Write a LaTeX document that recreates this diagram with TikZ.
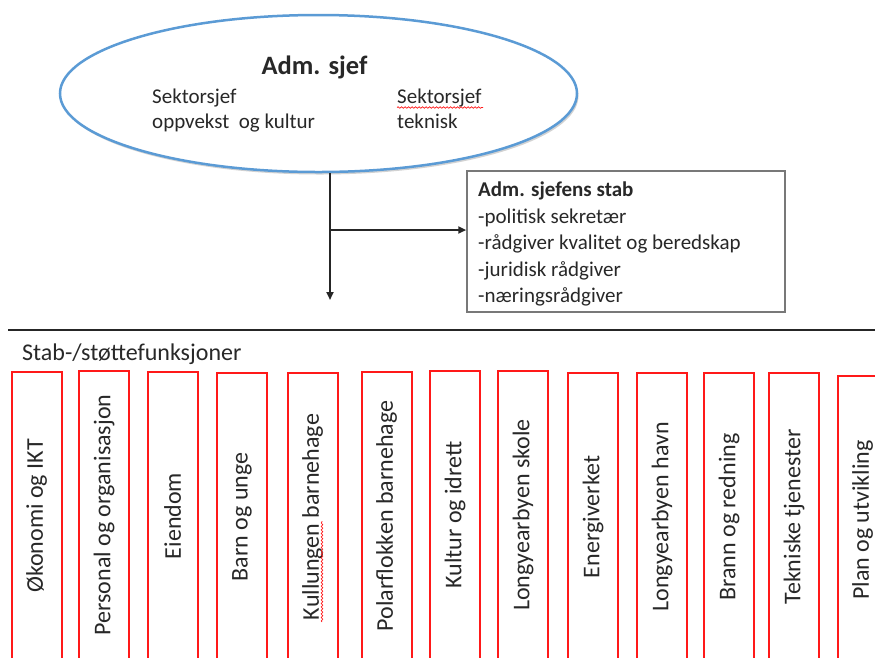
\documentclass[tikz,border=0pt]{standalone}
\usepackage{fontspec}
\setmainfont{Carlito}
\usetikzlibrary{arrows.meta,decorations.pathmorphing,shapes.geometric,shadows}
\definecolor{ellblue}{RGB}{91,155,213}
\definecolor{boxred}{RGB}{255,25,25}
\definecolor{txt}{RGB}{40,40,40}
\definecolor{stabgray}{RGB}{120,120,120}
\begin{document}
\begin{tikzpicture}[x=1pt,y=-1pt,
  every node/.style={text=txt},
  arr/.style={line width=2pt, black!85, -{Triangle[length=8pt,width=7pt]}},
  ellnode/.style={ellipse, draw=ellblue, line width=2.5pt, fill=white,
    minimum width=517pt, minimum height=157pt, inner sep=0pt,
    drop shadow={shadow xshift=1.5pt, shadow yshift=-2.5pt, opacity=0.35, fill=gray}},
  stabbox/.style={draw=stabgray, line width=1.5pt, minimum width=318pt, minimum height=141pt, inner sep=0pt},
  plain/.style={inner sep=0pt, align=left, font=\fontsize{21}{24.5}\selectfont},
  stabtext/.style={inner sep=0pt, align=left, font=\fontsize{21}{26.5}\selectfont},
  funcbox/.style={draw=boxred, line width=2pt, rotate=90, anchor=east,
    minimum width=288pt, minimum height=50pt, inner sep=0pt,
    font=\fontsize{24}{28}\selectfont},
  squiggle/.style={boxred, line width=0.7pt, decorate,
    decoration={snake, amplitude=0.8pt, segment length=3.5pt}}
]
\useasboundingbox (0,0) rectangle (875,657);
\clip (0,0) rectangle (875,657);
\fill[white] (0,0) rectangle (875,657);

% top ellipse
\node[ellnode] (adm) at (318.5,93.5) {};
\node[anchor=base, inner sep=0pt, font=\fontsize{26.5}{30}\selectfont\bfseries] (admtitle) at (314.5,74) {Adm. sjef};
\node[plain, anchor=north west] (sek1) at (152,89) {Sektorsjef\\oppvekst\ \ og kultur};
\node[plain, anchor=north west] (sek2) at (397,89) {Sektorsjef\\teknisk};
\draw[squiggle] (397,107.5) -- (483,107.5);

% staff box
\node[stabbox] (stab) at (626,241.5) {};
\node[stabtext, anchor=north west] (stabtxt) at (478,182) {\textbf{Adm. sjefens stab}\\-politisk sekretær\\-rådgiver kvalitet og beredskap\\-juridisk rådgiver\\-næringsrådgiver};

% connectors
\coordinate (vend) at (330,300);
\coordinate (br) at (330,230);
\draw[arr] (vend |- adm.south) -- (vend);
\draw[arr] (br) -- (br -| stab.west);

% horizontal rule
\coordinate (rl) at (8,330);
\coordinate (rr) at (875,330);
\draw[line width=2.5pt, black!85] (rl) -- (rr);

\node[anchor=base west, inner sep=0pt, font=\fontsize{24}{28}\selectfont] (stabhead) at (22,360) {Stab-/støttefunksjoner};

% function boxes
\node[funcbox] (f1) at (36.5,371) {Økonomi og IKT};
\node[funcbox] (f2) at (104,370) {Personal og organisasjon};
\node[funcbox] (f3) at (172.5,371) {Eiendom};
\node[funcbox] (f4) at (242,372) {Barn og unge};
\node[funcbox] (f5) at (312.5,372) {Kullungen barnehage};
\node[funcbox] (f6) at (386.5,371) {Polarflokken barnehage};
\node[funcbox] (f7) at (455,370) {Kultur og idrett};
\node[funcbox] (f8) at (523,370) {Longyearbyen skole};
\node[funcbox] (f9) at (593,372) {Energiverket};
\node[funcbox] (f10) at (662,372) {Longyearbyen havn};
\node[funcbox] (f11) at (729,372) {Brann og redning};
\node[funcbox] (f12) at (794,372) {Tekniske tjenester};
\node[funcbox] (f13) at (862.5,375) {Plan og utvikling};
\draw[squiggle] (322,622) -- (322,521);
\end{tikzpicture}
\end{document}
